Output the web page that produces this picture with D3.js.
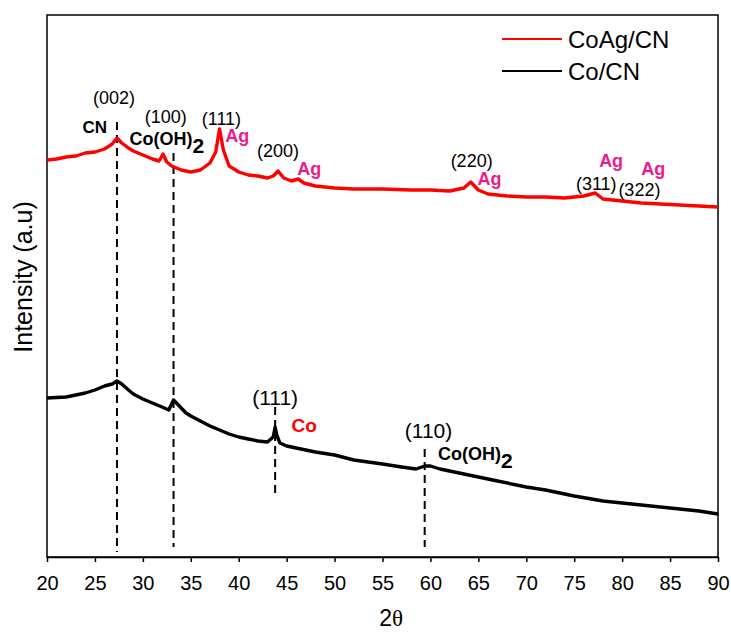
<!DOCTYPE html>
<html>
<head>
<meta charset="utf-8">
<script src="https://cdn.jsdelivr.net/npm/d3@7"></script>
<style>
  body { margin: 0; background: #fff; }
  text { font-family: Arial, "Liberation Sans", sans-serif; }
</style>
</head>
<body>
<script>
// 2theta positions and intensities (a.u.)
var twoTheta = [20, 21, 22, 23, 24, 25, 26, 26.8, 27.3, 27.8, 28.5, 29, 30, 31, 31.7, 32.1, 32.5, 33, 34, 35, 36, 37, 37.6, 38.0, 38.4, 39, 40, 41, 42, 43, 43.6, 44.1, 44.7, 45.5, 46.2, 46.8, 48, 50, 52, 55, 58, 60, 62, 63.5, 64.2, 65, 66, 68, 70, 72, 74, 76, 77.2, 78, 79, 80, 82, 84, 86, 88, 90];
var coAgCN = [397, 398, 400, 401, 404, 405, 408, 413, 419, 414, 409, 406, 402, 398, 396, 403, 395, 391, 387, 385, 387, 394, 405, 428, 407, 391, 385, 382, 381, 379, 381, 386, 379, 376, 378, 374, 371, 369, 368, 368, 367, 367, 366, 369, 375, 367, 363, 361, 360, 360, 359, 361, 364, 358, 357, 356, 354, 353, 352, 351, 350];

var twoTheta2 = [20, 22, 24, 25, 26, 26.8, 27.3, 27.8, 28.5, 29, 30, 31, 32, 32.7, 33.2, 33.7, 34.5, 35, 36, 37, 38, 39, 40, 41, 42, 43, 43.6, 43.8, 44.0, 44.3, 45, 46, 47, 48, 50, 52, 55, 57, 58.5, 59.4, 60, 61, 63, 65, 67, 70, 72, 75, 78, 80, 83, 85, 88, 90];
var coCN = [159, 160, 164, 167, 171, 173, 176, 173, 167, 163, 158, 154, 150, 147, 157, 152, 144, 141, 136, 131, 127, 123, 120, 118, 116, 115, 120, 130, 121, 114, 111, 109, 107, 105, 102, 97, 93, 90, 88, 91, 91, 88, 84, 80, 76, 70, 67, 61, 56, 54, 51, 49, 46, 43];

var seriesNames = ["CoAg/CN", "Co/CN"];
var seriesColors = ["#ff0000", "#000000"];
var xTicks = [20, 25, 30, 35, 40, 45, 50, 55, 60, 65, 70, 75, 80, 85, 90];

// dashed marker lines: [2theta, top, bottom] in intensity units
var markers = [[27.3, 435, 5], [33.2, 404, 10], [43.8, 150, 59], [59.4, 108, 10]];

// peak labels: text, 2theta, intensity, kind
var labels = [
  ["(002)", 27.0, 453, "hkl"],
  ["(100)", 32.4, 434, "hkl"],
  ["(111)", 38.2, 432, "hkl"],
  ["(200)", 44.1, 400, "hkl"],
  ["(220)", 64.3, 390, "hkl"],
  ["(311)", 77.3, 367, "hkl"],
  ["(322)", 81.8, 361, "hkl"],
  ["(111)", 43.8, 152, "hkl2"],
  ["(110)", 59.8, 119, "hkl2"]
];
var agLabels = [[38.6, 415], [46.1, 382], [64.9, 372], [77.6, 390], [82.0, 382]];

var W = 731, H = 635;
var margin = {left: 47, right: 13, top: 15, bottom: 78};

var svg = d3.select("body").append("svg").attr("width", W).attr("height", H);

var x = d3.scaleLinear().domain([20, 90]).range([margin.left, W - margin.right]);
var y = d3.scaleLinear().domain([0, 542]).range([H - margin.bottom, margin.top]);

// frame
svg.append("rect")
  .attr("x", x(20)).attr("y", y(542))
  .attr("width", x(90) - x(20)).attr("height", y(0) - y(542))
  .attr("fill", "none").attr("stroke", "#000").attr("stroke-width", 1.5);

var xAxis = svg.append("g")
  .attr("transform", "translate(0," + y(0) + ")")
  .call(d3.axisBottom(x).tickValues(xTicks).tickSize(5).tickSizeOuter(0).tickFormat(d3.format("d")));
xAxis.select(".domain").attr("stroke-width", 1.5);
xAxis.selectAll(".tick line").attr("stroke-width", 1.5);
xAxis.selectAll("text").attr("font-size", 20).attr("y", 33).attr("dy", 0)
  .attr("font-family", "Arial, 'Liberation Sans', sans-serif").attr("fill", "#000");

var xTitle = svg.append("text")
  .attr("x", x(55.9)).attr("y", 626)
  .attr("text-anchor", "middle").attr("font-size", 23);
xTitle.append("tspan").text("2");
xTitle.append("tspan").text("θ").attr("font-family", "'Liberation Serif', 'DejaVu Serif', serif");

svg.append("text").text("Intensity (a.u)")
  .attr("transform", "translate(32,277) rotate(-90)")
  .attr("text-anchor", "middle").attr("font-size", 25);

// dashed markers
svg.selectAll(".marker").data(markers).enter().append("line")
  .attr("class", "marker")
  .attr("x1", function(d){ return x(d[0]); })
  .attr("x2", function(d){ return x(d[0]); })
  .attr("y1", function(d){ return y(d[1]); })
  .attr("y2", function(d){ return y(d[2]); })
  .attr("stroke", "#000").attr("stroke-width", 2)
  .attr("stroke-dasharray", "8,5");

var line = d3.line()
  .x(function(d){ return x(d[0]); })
  .y(function(d){ return y(d[1]); });

svg.append("path")
  .datum(d3.zip(twoTheta, coAgCN))
  .attr("d", line)
  .attr("fill", "none").attr("stroke", seriesColors[0])
  .attr("stroke-width", 3.4).attr("stroke-linejoin", "round");

svg.append("path")
  .datum(d3.zip(twoTheta2, coCN))
  .attr("d", line)
  .attr("fill", "none").attr("stroke", seriesColors[1])
  .attr("stroke-width", 3.4).attr("stroke-linejoin", "round");

// hkl labels
svg.selectAll(".hkl").data(labels).enter().append("text")
  .attr("class", "hkl")
  .text(function(d){ return d[0]; })
  .attr("x", function(d){ return x(d[1]); })
  .attr("y", function(d){ return y(d[2]); })
  .attr("text-anchor", "middle")
  .attr("font-size", function(d){ return d[3] == "hkl2" ? 21 : 18; });

svg.selectAll(".ag").data(agLabels).enter().append("text")
  .attr("class", "ag").text("Ag")
  .attr("x", function(d){ return x(d[0]); })
  .attr("y", function(d){ return y(d[1]); })
  .attr("font-size", 18).attr("font-weight", "bold").attr("fill", "#ee1a8c");

svg.append("text").text("CN")
  .attr("x", x(23.7)).attr("y", y(424))
  .attr("font-size", 17).attr("font-weight", "bold");

function cooh(xv, yv, size){
  var t = svg.append("text")
    .attr("x", x(xv)).attr("y", y(yv))
    .attr("font-size", size).attr("font-weight", "bold");
  t.append("tspan").text("Co(OH)");
  t.append("tspan").text("2").attr("dy", 8).attr("font-size", size + 3);
}
cooh(28.6, 412, 18);
cooh(60.8, 97, 18);

svg.append("text").text("Co")
  .attr("x", x(45.5)).attr("y", y(125))
  .attr("font-size", 19).attr("font-weight", "bold").attr("fill", "#ff0000");

// legend
var legend = svg.selectAll(".legend").data(seriesNames).enter().append("g")
  .attr("class", "legend")
  .attr("transform", function(d, i){ return "translate(502," + (39 + i * 32) + ")"; });
legend.append("line")
  .attr("x1", 0).attr("x2", 60)
  .attr("stroke", function(d, i){ return seriesColors[i]; })
  .attr("stroke-width", 2);
legend.append("text")
  .text(function(d){ return d; })
  .attr("x", 66).attr("y", 9)
  .attr("font-size", 24);
</script>
</body>
</html>
